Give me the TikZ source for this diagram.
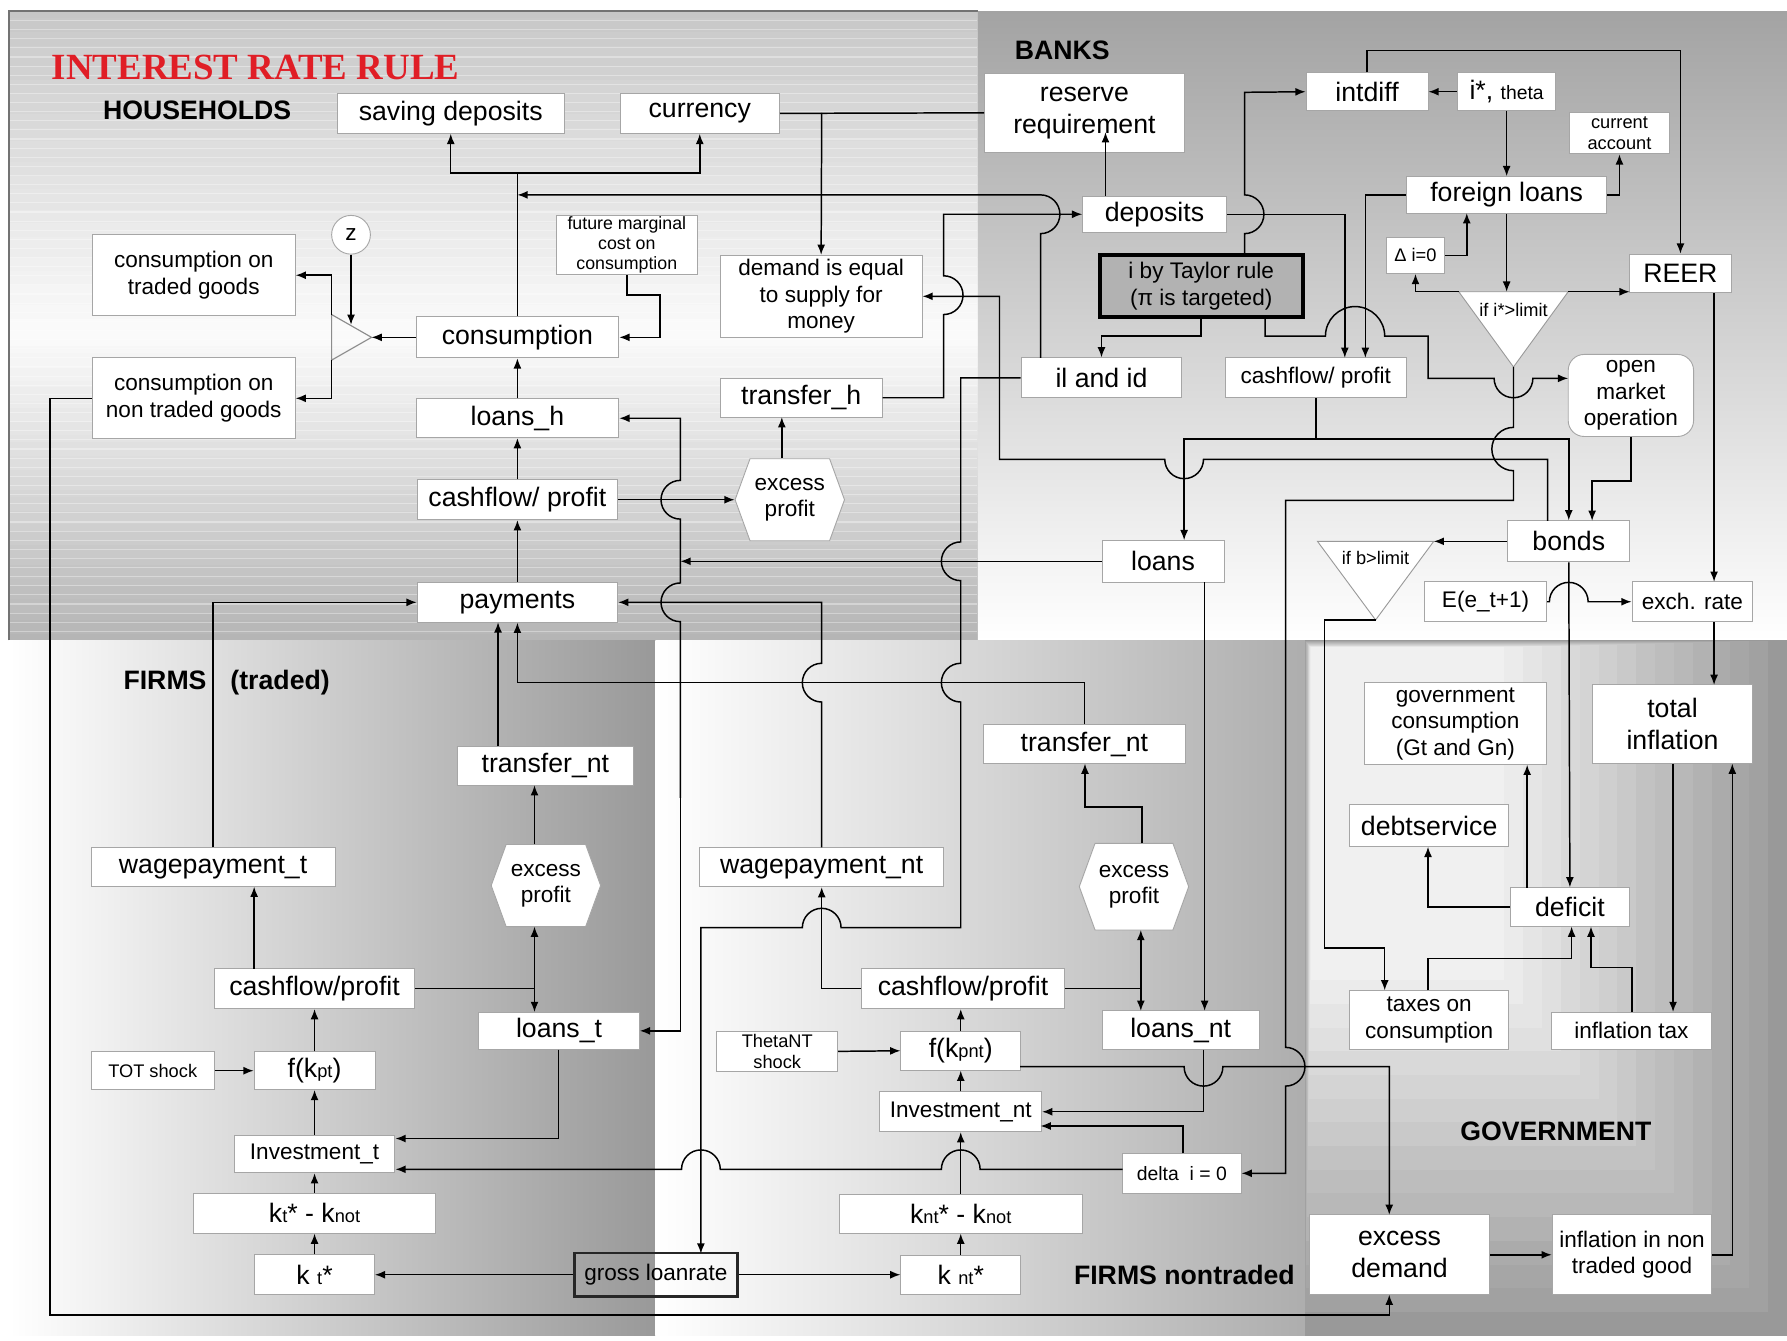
\documentclass[tikz,border=0pt]{standalone}
\usepackage{fontspec}
\setmainfont{Liberation Sans}
\newfontfamily\titlefont{Liberation Serif}
\usetikzlibrary{arrows.meta,shapes.symbols}
\definecolor{rulered}{RGB}{224,30,38}

\begin{document}
\begin{tikzpicture}[x=0.5pt,y=-0.5pt,
    box/.style={draw=black!35, fill=white, line width=0.4pt, inner sep=1pt, align=center},
    big/.style={font=\fontsize{11.7}{13.9}\selectfont},
    mid/.style={font=\fontsize{9.9}{11.6}\selectfont},
    sml/.style={font=\fontsize{8}{9.2}\selectfont},
    region/.style={font=\fontsize{11.7}{13.9}\selectfont\bfseries, anchor=west, inner sep=0pt},
    hexa/.style={box, shape=signal, signal to=east and west, signal pointer angle=140},
    wire/.style={draw=black, line width=0.65pt},
    arr/.style={wire, -{Latex[length=4.5pt,width=3.5pt]}},
    darr/.style={wire, {Latex[length=4.5pt,width=3.5pt]}-{Latex[length=4.5pt,width=3.5pt]}}]

    \useasboundingbox (0,0) rectangle (1568,1176);

    % backgrounds
    \foreach \y in {10,16,...,556}{
      \pgfmathtruncatemacro\shd{\y<290 ? 22-20*(\y-10)/280 : 2+28*(\y-290)/272}
      \fill[black!\shd] (8,\y) rectangle (858,\y+7);
    }
    \foreach \y in {18,26,...,554}
      \draw[white, opacity=0.35, line width=0.5pt] (9,\y) -- (857,\y);
    \draw[black!55, line width=0.8pt] (8,562) -- (8,10) -- (858,10);
    \shade[top color=black!36, middle color=black!24, bottom color=white] (858,10) rectangle (1568,562);
    \shade[left color=white, right color=black!40] (8,562) rectangle (575,1172);
    \shade[left color=white, right color=black!32] (575,562) rectangle (1145,1172);
    \foreach \i in {0,...,15}{
      \pgfmathsetmacro\fr{\i/15}
      \pgfmathtruncatemacro\shd{40-34*\fr}
      \fill[black!\shd] ({1145+5*\fr},{562+6*\fr}) rectangle ({1568-248*\fr},{1172-312*\fr});
    }

    % households
    \node[region, text=rulered, font=\titlefont\bfseries\fontsize{16.2}{18}\selectfont] (title) at (45,59) {INTEREST RATE RULE};
    \node[region] (hh) at (90,96.5) {HOUSEHOLDS};
    \node[box, big, minimum width=99.5pt, minimum height=17.5pt] (savdep) at (395.5,99.5) {saving deposits};
    \node[box, big, minimum width=70pt, minimum height=17.5pt] (curr) at (614,99.5) {currency};
    \node[box, mid, minimum width=89pt, minimum height=35.5pt] (ctrad) at (170,241.5) {consumption on\\traded goods};
    \node[box, mid, minimum width=89pt, minimum height=35.5pt] (cnontr) at (170,349.5) {consumption on\\non traded goods};
    \node[box, circle, mid, minimum size=17pt, inner sep=0pt] (zc) at (308,206) {z};
    \node[box, big, minimum width=89pt, minimum height=18pt] (cons) at (454,296) {consumption};
    \node[box, font=\fontsize{7.8}{8.8}\selectfont, inner sep=0.5pt, minimum width=62pt, minimum height=26pt] (fmc) at (550,215) {future marginal\\cost on\\consumption};
    \node[box, mid, minimum width=88.5pt, minimum height=36pt] (demand) at (720.5,260) {demand is equal\\to supply for\\money};
    \node[box, big, minimum width=89pt, minimum height=17pt] (loansh) at (454,367) {loans\_h};
    \node[box, big, minimum width=71pt, minimum height=17pt] (transh) at (703,349) {transfer\_h};
    \node[box, big, minimum width=88pt, minimum height=17.5pt] (cfh) at (454,438.5) {cashflow/ profit};
    \node[hexa, mid, minimum width=48pt, minimum height=36pt] (exph) at (693,438.5) {excess\\profit};
    \node[box, big, minimum width=88pt, minimum height=17.5pt] (paym) at (454,528.5) {payments};
    \draw[black!45, line width=0.5pt] (291,276) -- (326,296) -- (291,316) -- cycle;

    % banks
    \node[region] (banks) at (890,44) {BANKS};
    \node[box, big, minimum width=87.5pt, minimum height=34.5pt] (resreq) at (951.5,99) {reserve\\requirement};
    \node[box, big, minimum width=63pt, minimum height=16pt] (depos) at (1013,188) {deposits};
    \node[box, big, minimum width=53.5pt, minimum height=16.5pt] (intdiff) at (1199.5,80.5) {intdiff};
    \node[box, big, minimum width=43pt, minimum height=16.5pt] (istar) at (1322,80.5) {i*, {\fontsize{8.5}{9}\selectfont theta}};
    \node[box, sml, minimum width=44pt, minimum height=18pt] (curacc) at (1421,117) {current\\account};
    \node[box, big, minimum width=88pt, minimum height=16pt] (forl) at (1322,171) {foreign loans};
    \node[box, sml, minimum width=25.5pt, minimum height=16pt] (dzero) at (1242,224) {Δ i=0};
    \node[box, big, minimum width=44.5pt, minimum height=17pt] (reer) at (1474.5,240) {REER};
    \node[box, mid, draw=black, line width=1.8pt, fill=black!30, minimum width=89pt, minimum height=27pt] (taylor) at (1054,251) {i by Taylor rule\\(π is targeted)};
    \draw[black!40, fill=white] (1280,256) -- (1376,256) -- (1328,322) -- cycle;
    \node[sml] (ilim) at (1328,272) {if i*>limit};
    \node[box, big, minimum width=70.5pt, minimum height=17.5pt] (ilid) at (966.5,331.5) {il and id};
    \node[box, mid, minimum width=79.5pt, minimum height=17.5pt] (cfb) at (1154.5,331.5) {cashflow/ profit};
    \node[box, mid, rounded corners=7pt, minimum width=55pt, minimum height=36pt] (omo) at (1431,347) {open\\market\\operation};
    \node[box, big, minimum width=53.5pt, minimum height=18.5pt] (loans) at (1020.5,492.5) {loans};
    \node[box, big, minimum width=53.5pt, minimum height=18pt] (bonds) at (1376.5,475) {bonds};
    \draw[black!40, fill=white] (1156,475) -- (1258,475) -- (1207,544) -- cycle;
    \node[sml] (blim) at (1207,490) {if b>limit};
    \node[box, mid, minimum width=53.5pt, minimum height=17.5pt] (eet) at (1303.5,528) {E(e\_t+1)};
    \node[box, mid, minimum width=53pt, minimum height=17.5pt] (exch) at (1485,528) {exch. rate};

    % firms traded
    \node[region] (firmst) at (108,599) {FIRMS\hspace{0.9em}(traded)};
    \node[box, big, minimum width=107pt, minimum height=17pt] (wagt) at (187,761) {wagepayment\_t};
    \node[box, big, minimum width=77.5pt, minimum height=17pt] (transt) at (478.5,672) {transfer\_nt};
    \node[hexa, mid, minimum width=48pt, minimum height=36pt] (expt) at (479,777) {excess\\profit};
    \node[box, big, minimum width=88pt, minimum height=17.5pt] (cft) at (276,867.5) {cashflow/profit};
    \node[box, big, minimum width=70.5pt, minimum height=16.5pt] (loanst) at (490.5,904.5) {loans\_t};
    \node[box, sml, minimum width=54pt, minimum height=16.5pt] (tot) at (134,939.5) {TOT shock};
    \node[box, big, minimum width=53pt, minimum height=16.5pt] (fkpt) at (276,939.5) {f(k{\fontsize{8}{8}\selectfont pt})};
    \node[box, mid, minimum width=70.5pt, minimum height=16.5pt] (invt) at (276,1012.5) {Investment\_t};
    \node[box, big, minimum width=106.5pt, minimum height=17.5pt] (ktkn) at (276,1064.5) {k{\fontsize{8}{8}\selectfont t}* - k{\fontsize{8}{8}\selectfont not}};
    \node[box, big, minimum width=52.5pt, minimum height=17.5pt] (kts) at (276,1118.5) {k {\fontsize{8}{8}\selectfont t}*};
    \node[box, mid, fill=none, draw=black!85, line width=1.2pt, minimum width=71.5pt, minimum height=19pt] (gross) at (575.5,1118.5) {gross loanrate};

    % firms nontraded
    \node[region] (firmsnt) at (942,1119) {FIRMS nontraded};
    \node[box, big, minimum width=107pt, minimum height=17pt] (wagnt) at (721,761) {wagepayment\_nt};
    \node[box, big, minimum width=88.5pt, minimum height=17pt] (transnt) at (951.5,653) {transfer\_nt};
    \node[hexa, mid, minimum width=48pt, minimum height=38pt] (expnt) at (995,778) {excess\\profit};
    \node[box, big, minimum width=89pt, minimum height=17.5pt] (cfnt) at (845,867.5) {cashflow/profit};
    \node[box, big, minimum width=69pt, minimum height=17pt] (loansnt) at (1036,904) {loans\_nt};
    \node[box, sml, inner sep=0.5pt, minimum width=53pt, minimum height=17.5pt] (theta) at (682,922.5) {ThetaNT\\shock};
    \node[box, big, minimum width=52.5pt, minimum height=17pt] (fkpnt) at (843,922) {f(k{\fontsize{8}{8}\selectfont pnt})};
    \node[box, mid, minimum width=71pt, minimum height=17.5pt] (invnt) at (843,975.5) {Investment\_nt};
    \node[box, font=\fontsize{8.5}{9}\selectfont, minimum width=52pt, minimum height=17.5pt] (delta) at (1037,1029.5) {delta\ \ i = 0};
    \node[box, big, minimum width=106.5pt, minimum height=17pt] (kntkn) at (843,1065) {k{\fontsize{8}{8}\selectfont nt}* - k{\fontsize{8}{8}\selectfont not}};
    \node[box, big, minimum width=52.5pt, minimum height=17pt] (knts) at (843,1118.5) {k {\fontsize{8}{8}\selectfont nt}*};

    % government
    \node[region] (gov) at (1281,993) {GOVERNMENT};
    \node[box, mid, minimum width=80pt, minimum height=36pt] (gcons) at (1277,635) {government\\consumption\\(Gt and Gn)};
    \node[box, big, minimum width=70.5pt, minimum height=34.5pt] (totinf) at (1467.5,635.5) {total\\inflation};
    \node[box, big, minimum width=70pt, minimum height=18.5pt] (debt) at (1254,724.5) {debtservice};
    \node[box, big, minimum width=52.5pt, minimum height=17pt] (defic) at (1377.5,796) {deficit};
    \node[box, mid, minimum width=70pt, minimum height=26pt] (taxes) at (1254,895) {taxes on\\consumption};
    \node[box, mid, minimum width=70.5pt, minimum height=16.5pt] (inftax) at (1431.5,904.5) {inflation tax};
    \node[box, big, minimum width=79pt, minimum height=35pt] (exdem) at (1228,1101) {excess\\demand};
    \node[box, mid, minimum width=70pt, minimum height=35pt] (infnt) at (1432,1101) {inflation in non\\traded good};

    % households links
    \draw[arr] (cons.west) -- (326,296);
    \draw[arr] (zc.south) -- (308,285);
    \draw[arr] (291,276) |- (ctrad.east);
    \draw[arr] (291,316) |- (cnontr.east);
    \draw[arr] (fmc.south) -- (550,259) -- (579,259) |- (cons.east);
    \draw[arr] (cons.north) -- (454,152) -| (savdep.south);
    \draw[arr] (454,152) -| (curr.south);
    \draw[arr] (loansh.north) -- (cons.south);
    \draw[arr] (cfh.north) -- (loansh.south);
    \draw[arr] (paym.north) -- (cfh.south);
    \draw[arr] (cfh.east) -- (exph.west);
    \draw[arr] (686,402) -- (686,366);
    \draw[wire] (curr.east) -- (resreq.west);
    \draw[arr] (721,99) -- (demand.north);
    \draw[arr] (transh.east) -- (828,349) -- (828,276) arc[start angle=-90, end angle=90, radius=8.5pt] -- (828,188) -- (depos.west);
    \draw[arr] (913,314) -- (913,205) arc[start angle=-90, end angle=90, radius=8.5pt] -- (454,171);

    % banks links
    \draw[arr] (970,172) -- (970,116);
    \draw[arr] (depos.east) -- (1180,188) -- (1180,314);
    \draw[arr] (forl.west) -- (1198,171) -- (1198,314);
    \draw[arr] (forl.east) -- (1421,171) -- (curacc.south);
    \draw[arr] (istar.west) -- (intdiff.east);
    \draw[arr] (istar.south) -- (forl.north);
    \draw[arr] (forl.south) -- (1322,256);
    \draw[arr] (1280,256) -- (1242,256) -- (dzero.south);
    \draw[arr] (1376,256) -- (1430,256);
    \draw[arr] (dzero.east) -- (1287,224) -- (1287,187);
    \draw[arr] (intdiff.north) -- (1199.5,44.5) -| (reer.north);
    \draw[arr] (1092,224) -- (1092,205) arc[start angle=-90, end angle=90, radius=8.5pt] -- (1092,81) -- (intdiff.west);
    \draw[arr] (1054,278) -- (1054,295) -- (966.5,295) -- (ilid.north);
    \draw[arr] (1110,278) -- (1110,295) -- (1163,295) arc[start angle=180, end angle=0, radius=13pt] -- (1253,295) -- (1253,332) -- (1311,332) arc[start angle=180, end angle=360, radius=8.5pt] -- (1376,332);
    \draw[arr] (cfb.south) -- (1154.5,385) -- (1039,385) -- (1039,474);
    \draw[arr] (1154.5,385) -- (1376.5,385) -- (bonds.north);
    \draw[arr] (1358,457) -- (1358,403) -- (1056,403) arc[start angle=0, end angle=-180, radius=8.5pt] -- (877,403) -- (877,260) -- (demand.east);
    \draw[arr] (omo.south) -- (1431,422) -- (1397,422) -- (1397,457);
    \draw[arr] (1328,322) -- (1328,375) arc[start angle=90, end angle=270, radius=9.5pt] -- (1328,439) -- (1128,439) -- (1128,919) arc[start angle=90, end angle=-90, radius=8.5pt] -- (1128,1029.5) -- (delta.east);
    \draw[arr] (reer.south -| 1504,0) -- (1504,510.5);
    \draw[arr] (exch.south -| 1504,0) -- (1504,601);
    \draw[arr] (bonds.west) -- (1258,475);
    \draw[arr] (eet.east) -- (1359.5,528) arc[start angle=180, end angle=0, radius=8.5pt] -- (exch.west);

    % loans to households and firms
    \draw[arr] (loans.west) -- (597,492.5);
    \draw[arr] (597,700) -- (597,904.5) -- (loanst.east);
    \draw[arr] (597,700) -- (597,545.5) arc[start angle=270, end angle=90, radius=8.5pt] -- (597,455.5) arc[start angle=270, end angle=90, radius=8.5pt] -- (597,367) -- (loansh.east);
    \draw[arr] (1057,511) -- (1057,887);
    \draw[arr] (ilid.west) -- (843,331.5) -- (843,475.5) arc[start angle=90, end angle=270, radius=8.5pt] -- (843,582) arc[start angle=90, end angle=270, radius=8.5pt] -- (843,814) -- (738,814) arc[start angle=0, end angle=180, radius=8.5pt] -- (615,814) -- (615,1100);

    % firms traded links
    \draw[arr] (wagt.north) -- (187,528.5) -- (paym.west);
    \draw[arr] (437,655) -- (437,546);
    \draw[arr] (469,741) -- (469,689);
    \draw[wire] (cft.east) -- (469,867.5);
    \draw[darr] (469,813) -- (469,888);
    \draw[arr] (223,850) -- (223,778);
    \draw[arr] (fkpt.north) -- (cft.south);
    \draw[arr] (invt.north) -- (fkpt.south);
    \draw[arr] (ktkn.north) -- (invt.south);
    \draw[arr] (kts.north) -- (ktkn.south);
    \draw[arr] (tot.east) -- (fkpt.west);
    \draw[arr] (490,921) -- (490,999) -- (347,999);
    \draw[arr] (985,1026) -- (860,1026) arc[start angle=0, end angle=180, radius=8.5pt] -- (632,1026) arc[start angle=0, end angle=180, radius=8.5pt] -- (347,1026);
    \draw[arr] (gross.west) -- (kts.east);
    \draw[arr] (gross.east) -- (knts.west);

    % firms nontraded links
    \draw[arr] (wagnt.north) -- (721,616) arc[start angle=270, end angle=90, radius=8.5pt] -- (721,528.5) -- (paym.east);
    \draw[arr] (transnt.north) -- (951.5,599) -- (454,599) -- (paym.south);
    \draw[arr] (cfnt.west) -- (721,867.5) -- (wagnt.south);
    \draw[wire] (cfnt.east) -- (1001,867.5);
    \draw[darr] (1001,816) -- (1001,887);
    \draw[arr] (1002,740) -- (1002,708) -- (952,708) -- (952,670);
    \draw[arr] (1056,921) -- (1056,975.5) -- (invnt.east);
    \draw[arr] (1038,1012) -- (1038,988) -- (913,988);
    \draw[arr] (theta.east) -- (fkpnt.west);
    \draw[arr] (fkpnt.north) -- (fkpnt.north |- cfnt.south);
    \draw[arr] (invnt.north) -- (fkpnt.south);
    \draw[arr] (kntkn.north) -- (invnt.south);
    \draw[arr] (knts.north) -- (kntkn.south);
    \draw[arr] (895,936) -- (1039,936) arc[start angle=180, end angle=360, radius=8.5pt] -- (1219,936) -- (1219,1066);

    % government links
    \draw[arr] (1207,544) -- (1162,544) -- (1162,832) -- (1215,832) -- (1215,869);
    \draw[arr] (bonds.south) -- (defic.north);
    \draw[arr] (1340,779) -- (1340,671);
    \draw[arr] (defic.west) -- (1253,796) -- (1253,743);
    \draw[arr] (1253,869) -- (1253,841) -- (1379,841) -- (1379,813);
    \draw[arr] (1432,888) -- (1432,849) -- (1396,849) -- (1396,813);
    \draw[arr] (1468,670) -- (1468,888);
    \draw[arr] (infnt.east) -- (1520,1101) -- (1520,670);
    \draw[arr] (exdem.east) -- (infnt.west);
    \draw[arr] (cnontr.west) -- (44,349.5) -- (44,1154) -- (1219,1154) -- (1219,1136);
\end{tikzpicture}
\end{document}
